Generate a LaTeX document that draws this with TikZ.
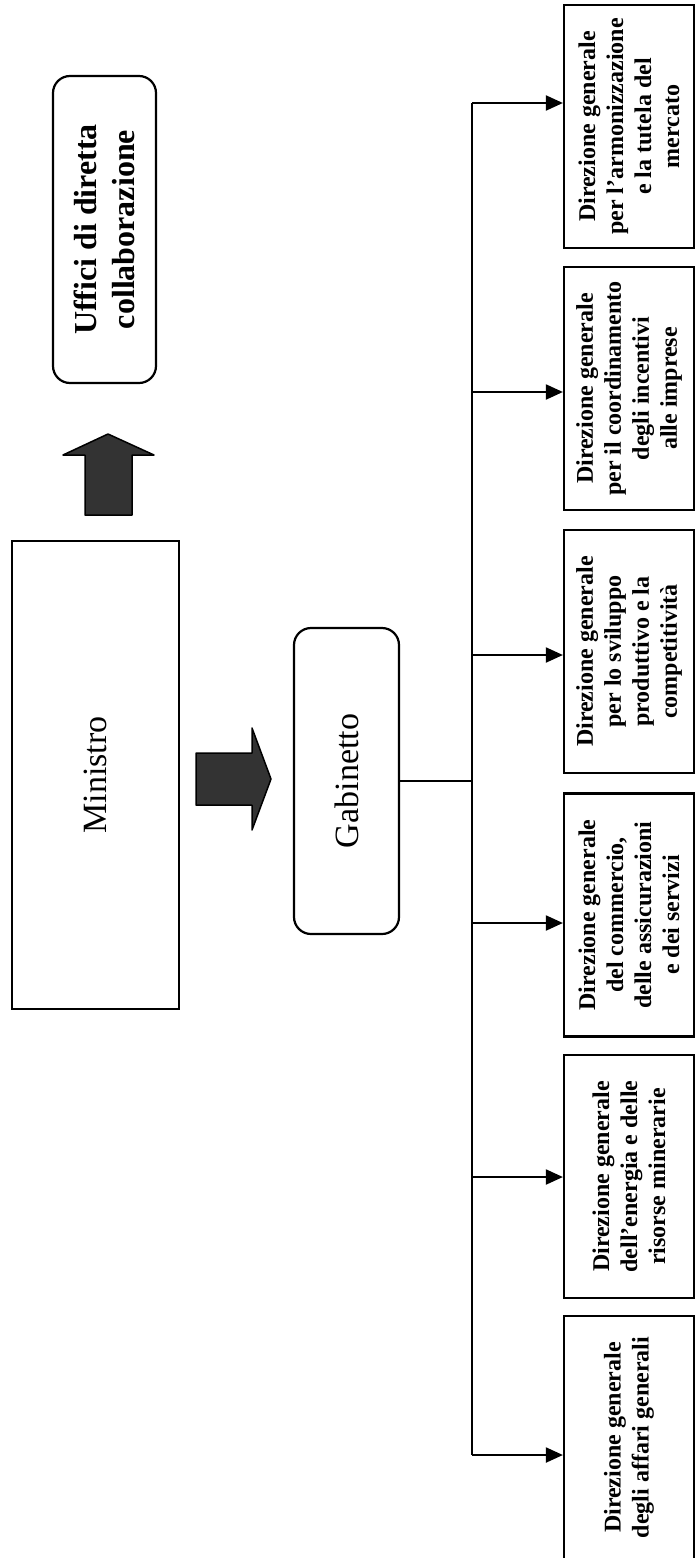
\documentclass[tikz,border=0pt]{standalone}
\usepackage{fontspec}
\setmainfont{Liberation Serif}
\usetikzlibrary{arrows.meta}
\tikzset{
dirbox/.style={rectangle, rotate=90, minimum width=243pt, minimum height=130pt, text centered, align=center, draw=black, line width=2.2pt, inner sep=2pt, font=\bfseries\fontsize{24}{28}\selectfont},
topbox/.style={rectangle, rotate=90, text centered, align=center, draw=black, line width=2.2pt, font=\fontsize{34}{40}\selectfont},
roundbox/.style={topbox, rounded corners=17pt},
arrow/.style={line width=2pt,-{Triangle[length=17pt,width=15pt]}},
noarrow/.style={line width=2pt},
blockarrow/.style={fill=black!80, draw=black, line width=1.5pt, line join=round}}
\begin{document}
\begin{tikzpicture}[x=1pt,y=-1pt]
\useasboundingbox (0,0) rectangle (698,1558);
\node (uffici) [roundbox, minimum width=307pt, minimum height=103pt, font=\bfseries\fontsize{32}{38}\selectfont] at (104.5,229.5) {Uffici di diretta\\collaborazione};
\node (ministro) [topbox, minimum width=468pt, minimum height=167pt] at (95.5,775) {Ministro};
\node (gabinetto) [roundbox, minimum width=306pt, minimum height=105pt] at (346.5,781) {Gabinetto};

\node (mercato) [dirbox] at (629,126.5) {Direzione generale\\per l’armonizzazione\\e la tutela del\\mercato};
\node (incentivi) [dirbox] at (629,388.5) {Direzione generale\\per il coordinamento\\degli incentivi\\alle imprese};
\node (sviluppo) [dirbox] at (629,651.5) {Direzione generale\\per lo sviluppo\\produttivo e la\\competitività};
\node (commercio) [dirbox] at (629,915) {Direzione generale\\del commercio,\\delle assicurazioni\\e dei servizi};
\node (energia) [dirbox] at (629,1176.5) {Direzione generale\\dell’energia e delle\\risorse minerarie};
\node (affari) [dirbox] at (629,1437.5) {Direzione generale\\degli affari generali};

% block arrows
\filldraw [blockarrow] (108,434) -- (154,455) -- (132,455) -- (132,515) -- (85,515) -- (85,455) -- (63,455) -- cycle;
\filldraw [blockarrow] (271,779) -- (252,830) -- (252,805) -- (196,805) -- (196,753) -- (252,753) -- (252,728) -- cycle;

% bus
\coordinate (bmercato) at (472,103);
\coordinate (bincentivi) at (472,392);
\coordinate (bsviluppo) at (472,655);
\coordinate (bgabinetto) at (472,781);
\coordinate (bcommercio) at (472,923);
\coordinate (benergia) at (472,1177);
\coordinate (baffari) at (472,1455);
\draw [noarrow] (gabinetto.south) -- (bgabinetto);
\draw [noarrow] (bmercato) -- (baffari);
\draw [arrow] (bmercato) -- (bmercato -| mercato.north);
\draw [arrow] (bincentivi) -- (bincentivi -| incentivi.north);
\draw [arrow] (bsviluppo) -- (bsviluppo -| sviluppo.north);
\draw [arrow] (bcommercio) -- (bcommercio -| commercio.north);
\draw [arrow] (benergia) -- (benergia -| energia.north);
\draw [arrow] (baffari) -- (baffari -| affari.north);
\end{tikzpicture}
\end{document}
